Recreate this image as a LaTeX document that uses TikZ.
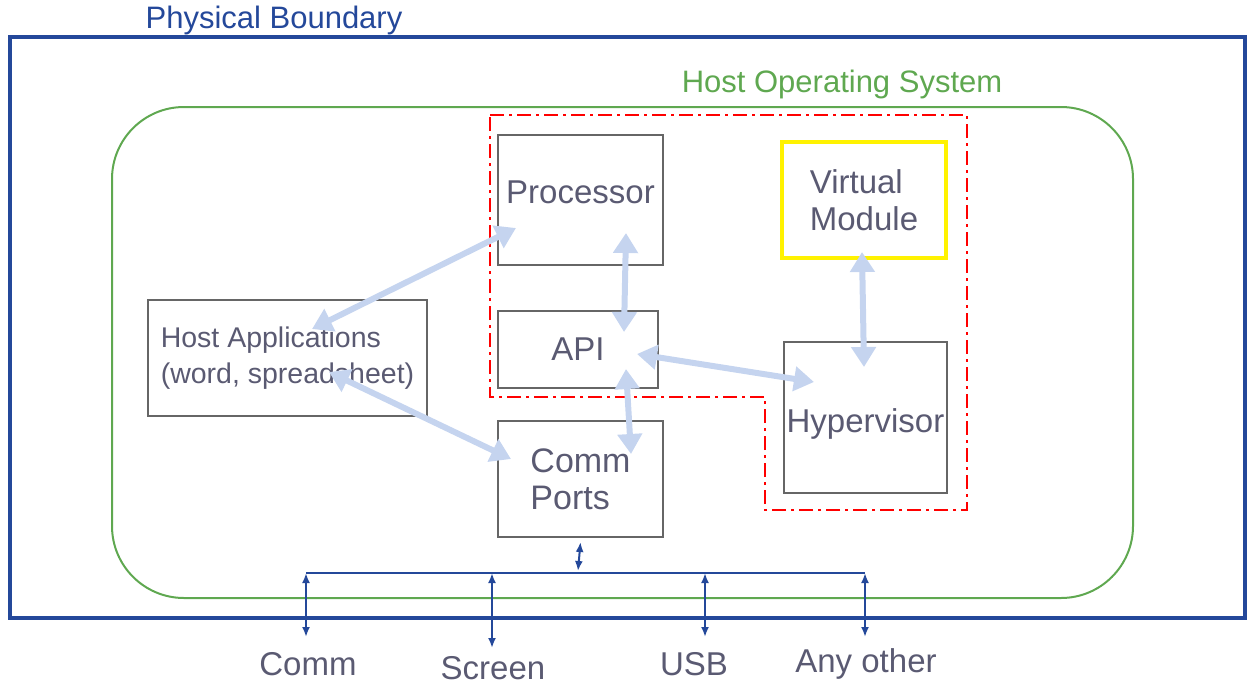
\documentclass[tikz,border=0pt]{standalone}
\usepackage{fontspec}
\setmainfont{Liberation Sans}
\usetikzlibrary{arrows.meta}
\definecolor{bndblue}{HTML}{24489A}
\definecolor{osgreen}{HTML}{5FA850}
\definecolor{boxgray}{HTML}{666666}
\definecolor{txtgray}{HTML}{5A5A72}
\definecolor{flowblue}{HTML}{C5D4EF}
\tikzset{
unit/.style={
	  draw=boxgray, line width=2, rectangle, inner sep=0,
	    text=txtgray, font=\fontsize{33}{37}\selectfont},
flow/.style={
	  flowblue, line width=6,
	    {Triangle[width=24,length=20]}-{Triangle[width=24,length=20]}},
bus/.style={
	  bndblue, line width=2,
	    {Latex[width=8,length=10]}-{Latex[width=8,length=10]}},
port/.style={text=txtgray, font=\fontsize{33}{37}\selectfont}
}

\begin{document}
\begin{tikzpicture}[x=1pt, y=-1pt]
	\useasboundingbox (0,0) rectangle (1247,686);
	% boundaries
	\draw[bndblue, line width=4] (10,37) rectangle (1245,618);
	\node[text=bndblue, font=\fontsize{31}{35}\selectfont] (phys) at (274,20) {Physical Boundary};
	\draw[osgreen, line width=2, rounded corners=72] (112,107) rectangle (1133,598);
	\node[text=osgreen, font=\fontsize{31}{35}\selectfont] (hostos) at (842,84) {Host Operating System};
	\draw[red, line width=2, dash pattern=on 14 off 5 on 3 off 5]
		(490,115) -- (967,115) -- (967,510) -- (765,510) -- (765,397) -- (490,397) -- cycle;
	% units
	\node[unit, minimum width=165, minimum height=130] (proc) at (580.5,200) {\raisebox{8pt}[\height][\depth]{Processor}};
	\node[unit, draw=yellow, line width=4, minimum width=164, minimum height=116, align=left] (vmod) at (864,200) {Virtual\\Module};
	\node[unit, minimum width=160, minimum height=77] (api) at (578,349.5) {API};
	\node[unit, minimum width=163, minimum height=151] (hyper) at (865.5,417.5) {\raisebox{-6pt}[\height][\depth]{Hypervisor}};
	\node[unit, minimum width=279, minimum height=116, align=left, font=\fontsize{28.5}{36}\selectfont] (hostapp) at (287.5,358) {Host Applications\\(word, spreadsheet)};
	\node[unit, minimum width=165, minimum height=116, align=left, font=\fontsize{34}{37}\selectfont] (comm) at (580.5,479) {Comm\\Ports};
	% data flows
	\draw[flow] ([shift={(19,-38)}]proc.south west) -- ([shift={(165,30)}]hostapp.north west);
	\draw[flow] ([shift={(182,73)}]hostapp.north west) -- ([shift={(14,39)}]comm.north west);
	\draw[flow] ([shift={(129,-33)}]proc.south west) -- ([shift={(127,22)}]api.north west);
	\draw[flow] ([shift={(129,-20)}]api.south west) -- ([shift={(134,34)}]comm.north west);
	\draw[flow] ([shift={(140,44)}]api.north west) -- ([shift={(31,41)}]hyper.north west);
	\draw[flow] ([shift={(82,-8)}]vmod.south west) -- ([shift={(81,26)}]hyper.north west);
	% bus
	\coordinate (bl) at (306,573);
	\coordinate (br) at (865,573);
	\draw[bus] ([shift={(0,4)}]comm.south) -- (578,571);
	\draw[bndblue, line width=2] (bl) -- (br);
	\node[port] (pcomm) at (308,664) {Comm};
	\node[port] (pscreen) at (493,668) {Screen};
	\node[port] (pusb) at (694,664) {USB};
	\node[port] (pother) at (866,664) {Any other};
	\draw[bus] (bl) -- (306,637);
	\draw[bus] (492,573) -- (492,648);
	\draw[bus] (705,573) -- (705,637);
	\draw[bus] (br) -- (865,637);
\end{tikzpicture}
\end{document}
